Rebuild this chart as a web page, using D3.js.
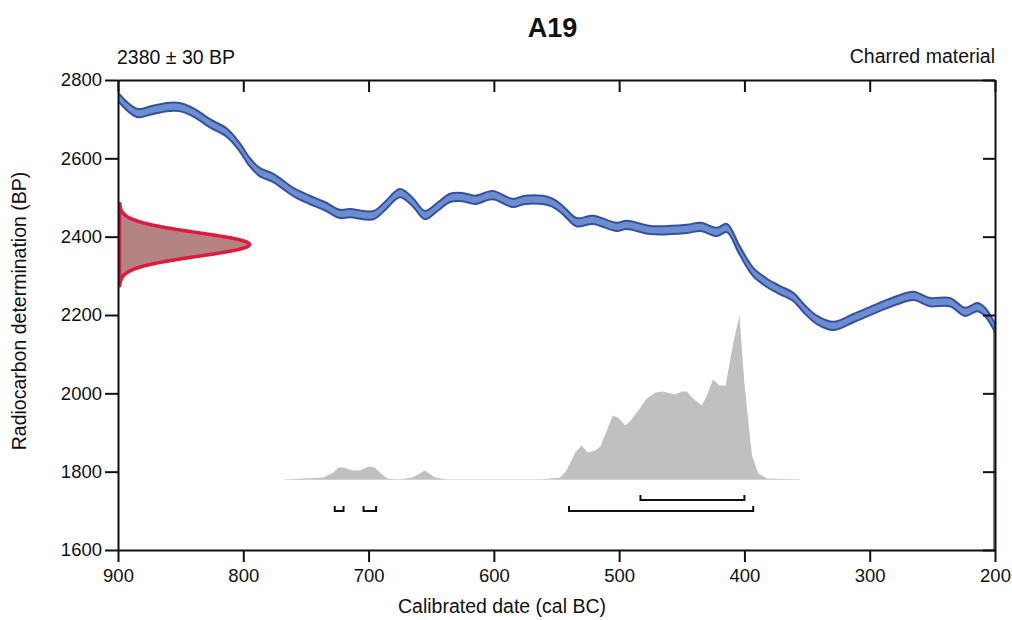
<html>

<head>
    <meta charset="utf-8">
    <title>A19</title>
    <style>
        body { margin: 0; background: white; }
        text { font-family: "Liberation Sans", Arial, Helvetica, sans-serif; fill: #111; }
    </style>
</head>

<body>
    <script src="https://cdn.jsdelivr.net/npm/d3@7/dist/d3.min.js" charset="utf-8"></script>
    <script>
        var width = 1012;
        var height = 620;

        // sample
        var sampleName = "A19";
        var c14Age = 2380;
        var c14Error = 30;
        var material = "Charred material";

        // calibration curve (cal BC, BP)
        var curveYears = [900, 885, 873, 861, 851, 839, 827, 813, 803, 795, 787, 776, 760, 747, 735, 723, 715, 696, 687, 675,
            665, 655, 645, 635, 625, 615, 601, 585, 575, 555, 545, 534, 521, 502, 494, 475, 446, 435, 422, 414,
            404, 393, 382, 372, 361, 352, 342, 329, 313, 294, 278, 265, 252, 236, 224, 214, 208, 200];
        var curveBP = [2757, 2716, 2723, 2731, 2731, 2716, 2690, 2665, 2629, 2591, 2565, 2550, 2514, 2494, 2478, 2458, 2460, 2455, 2478, 2511,
            2489, 2455, 2476, 2499, 2501, 2494, 2506, 2486, 2494, 2489, 2468, 2437, 2443, 2425, 2430, 2417, 2420, 2425, 2412, 2422,
            2366, 2310, 2282, 2264, 2246, 2215, 2187, 2172, 2192, 2218, 2238, 2249, 2233, 2233, 2208, 2220, 2208, 2167];
        var curveError = 10.5;

        // calibrated probability (relative)
        var calYears = [767, 736, 728, 724, 720, 713, 707, 700, 695, 691, 685, 675, 665, 655, 647, 637, 611, 563, 547, 542,
            535, 530, 525, 519, 515, 505, 501, 495, 490, 483, 478, 471, 465, 459, 455, 450, 446, 441, 434, 430,
            425, 420, 415, 409, 404, 400, 394, 389, 382, 356];
        var calProb = [0, 2, 7, 12, 12, 9, 9, 13, 12, 7, 1, 0, 2, 9, 2, 0, 0, 0, 2, 9,
            27, 34, 27, 29, 33, 64, 62, 54, 60, 72, 81, 87, 88, 86, 85, 88, 88, 81, 74, 84,
            100, 94, 94, 136, 164, 96, 24, 6, 1, 0];

        // highest density ranges
        var range68 = [[483, 400]];
        var range95 = [[727, 720], [704, 694], [540, 393]];

        var xTicks = [900, 800, 700, 600, 500, 400, 300, 200];
        var yTicks = [1600, 1800, 2000, 2200, 2400, 2600, 2800];

        var mLeft = 118, mRight = 995, mTop = 80, mBottom = 550;

        var svg = d3.select("body")
            .append("svg")
            .attr("width", width)
            .attr("height", height);

        var x = d3.scaleLinear().domain([900, 200]).range([mLeft, mRight]);
        var y = d3.scaleLinear().domain([1600, 2800]).range([mBottom, mTop]);

        svg.append("clipPath").attr("id", "plot")
            .append("rect")
            .attr("x", mLeft).attr("y", mTop)
            .attr("width", mRight - mLeft).attr("height", mBottom - mTop);

        var plot = svg.append("g").attr("clip-path", "url(#plot)");

        // calibrated distribution
        var calBase = y(1780);
        var calH = d3.scaleLinear().domain([0, d3.max(calProb)]).range([0, 164]);
        var calData = calYears.map(function (d, i) { return [d, calProb[i]]; });
        plot.append("line")
            .attr("x1", x(calYears[0])).attr("x2", x(calYears[calYears.length - 1]))
            .attr("y1", calBase).attr("y2", calBase)
            .attr("stroke", "#e2e2e2").attr("stroke-width", 1);
        plot.append("path")
            .attr("fill", "#c0c0c0")
            .attr("d", d3.area()
                .x(function (d) { return x(d[0]); })
                .y0(calBase)
                .y1(function (d) { return calBase - calH(d[1]); })(calData));

        // calibration curve band
        var curveData = curveYears.map(function (d, i) { return [d, curveBP[i]]; });
        plot.append("path")
            .attr("fill", "#6c8ecf")
            .attr("stroke", "#3450a3")
            .attr("stroke-width", 2)
            .attr("stroke-linejoin", "round")
            .attr("d", d3.area()
                .curve(d3.curveCatmullRom)
                .x(function (d) { return x(d[0]); })
                .y0(function (d) { return y(d[1] - curveError); })
                .y1(function (d) { return y(d[1] + curveError); })(curveData));
        plot.append("line")
            .attr("x1", mRight - 1).attr("x2", mRight - 1)
            .attr("y1", y(curveBP[curveBP.length - 1])).attr("y2", mBottom)
            .attr("stroke", "#3450a3").attr("stroke-width", 1.5);

        // radiocarbon determination (normal of c14Age, c14Error)
        var bpSteps = d3.range(c14Age - 3.5 * c14Error, c14Age + 3.5 * c14Error + 0.1, 1);
        var dens = bpSteps.map(function (b) {
            return [b, Math.exp(-0.5 * Math.pow((b - c14Age) / c14Error, 2))];
        });
        var dw = d3.scaleLinear().domain([0, 1]).range([0, 130]);
        plot.append("path")
            .attr("fill", "#b48484")
            .attr("stroke", "#e0193f")
            .attr("stroke-width", 3.5)
            .attr("stroke-linejoin", "round")
            .attr("d", d3.area()
                .y(function (d) { return y(d[0]); })
                .x0(mLeft + 1.5)
                .x1(function (d) { return mLeft + 1.5 + dw(d[1]); })(dens));

        // ranges
        function drawRanges(list, yy) {
            list.forEach(function (r) {
                var x1 = x(r[0]), x2 = x(r[1]);
                svg.append("path")
                    .attr("fill", "none")
                    .attr("stroke", "#111")
                    .attr("stroke-width", 2)
                    .attr("d", "M" + x1 + "," + (yy - 5) + "V" + yy + "H" + x2 + "V" + (yy - 5));
            });
        }
        drawRanges(range68, 500);
        drawRanges(range95, 511);

        // axes
        var gb = svg.append("g").attr("transform", "translate(0," + mBottom + ")")
            .call(d3.axisBottom(x).tickValues(xTicks).tickSize(12).tickSizeOuter(0).tickPadding(7));
        var gl = svg.append("g").attr("transform", "translate(" + mLeft + ",0)")
            .call(d3.axisLeft(y).tickValues(yTicks).tickSize(13).tickSizeOuter(0).tickPadding(3));
        var gt = svg.append("g").attr("transform", "translate(0," + mTop + ")")
            .call(d3.axisTop(x).tickValues(xTicks).tickSize(-12).tickSizeOuter(0).tickFormat(""));
        var gr = svg.append("g").attr("transform", "translate(" + mRight + ",0)")
            .call(d3.axisRight(y).tickValues(yTicks).tickSize(-12).tickSizeOuter(0).tickFormat(""));
        [gb, gl, gt, gr].forEach(function (g) {
            g.selectAll("path, line").attr("stroke", "#111").attr("stroke-width", 2);
            g.selectAll("text").attr("font-size", 18.5).attr("fill", "#111")
                .attr("font-family", "'Liberation Sans', Arial, sans-serif");
        });
        gl.selectAll("text").text(function (d) { return d; });

        // texts
        svg.append("text")
            .attr("x", (mLeft + mRight) / 2 - 4).attr("y", 37)
            .attr("text-anchor", "middle")
            .attr("font-size", 27).attr("font-weight", "bold")
            .text(sampleName);
        svg.append("text")
            .attr("x", mLeft - 1).attr("y", 64)
            .attr("font-size", 19.5)
            .text(c14Age + " ± " + c14Error + " BP");
        svg.append("text")
            .attr("x", mRight).attr("y", 63)
            .attr("text-anchor", "end")
            .attr("font-size", 19.5)
            .text(material);
        svg.append("text")
            .attr("x", width / 2 - 4).attr("y", 613)
            .attr("text-anchor", "middle")
            .attr("font-size", 19.5)
            .text("Calibrated date (cal BC)");
        svg.append("text")
            .attr("transform", "translate(26,311) rotate(-90)")
            .attr("text-anchor", "middle")
            .attr("font-size", 19.5)
            .text("Radiocarbon determination (BP)");
    </script>
</body>

</html>
